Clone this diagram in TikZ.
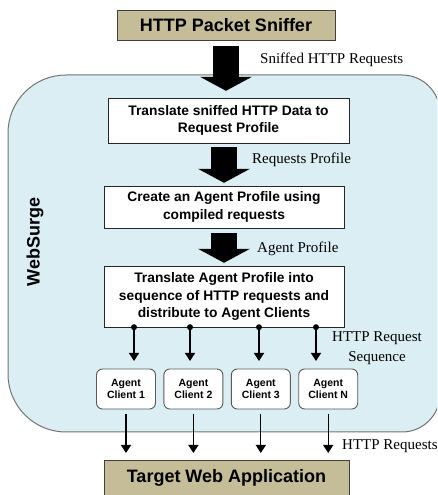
\documentclass[tikz,border=0pt]{standalone}
\usepackage{fontspec}
\setmainfont{Liberation Serif}
\setsansfont{Liberation Sans}
\definecolor{snifftan}{RGB}{196,189,151}
\definecolor{surgeblue}{RGB}{218,238,243}
\usepackage{tikz}
\usetikzlibrary{shapes,arrows.meta,positioning,calc}

\begin{document}
\begin{tikzpicture}[x=1pt,y=1pt,
    endbox/.style={rectangle, draw=black!75, fill=snifftan, inner sep=0pt,
                   font=\sffamily\bfseries\fontsize{18}{21}\selectfont},
    stagebox/.style={rectangle, draw=black!85, fill=white, align=center, inner sep=0pt,
                     font=\sffamily\bfseries\fontsize{13.8}{17.5}\selectfont},
    clientbox/.style={rectangle, rounded corners=6pt, draw=black!65, fill=white, line width=0.9pt,
                      minimum width=59pt, minimum height=40pt, align=center, inner sep=0pt,
                      font=\sffamily\bfseries\fontsize{10.5}{12.5}\selectfont},
    flowlabel/.style={font=\fontsize{15}{20.5}\selectfont, inner sep=0pt},
    bigarrow/.style={line width=26pt, -{Triangle[width=52pt,length=14pt,line width=0pt]}},
    reqarrow/.style={line width=1.3pt, -{Triangle[width=10pt,length=8pt]}}]
    \useasboundingbox (0,0) rectangle (437,495);
    \clip (0,0) rectangle (437,495);

    % WebSurge container
    \path[draw=black!55, fill=surgeblue, line width=1pt]
        (66,420) -- (402,420) arc[start angle=90, end angle=0, radius=38pt]
        -- (440,101) arc[start angle=0, end angle=-90, radius=38pt]
        -- (66,63) arc[start angle=270, end angle=180, radius=58pt]
        -- (8,362) arc[start angle=180, end angle=90, radius=58pt] -- cycle;
    \node[rotate=90, font=\sffamily\bfseries\fontsize{18}{21}\selectfont] (websurge) at (35,253) {WebSurge};

    \node[endbox, minimum width=218pt, minimum height=30pt] (sniffer) at (226,470) {HTTP Packet Sniffer};
    \node[stagebox, minimum width=241pt, minimum height=45pt] (translate) at (228.5,374.5)
        {Translate sniffed HTTP Data to\\Request Profile};
    \node[stagebox, minimum width=240pt, minimum height=42pt] (profile) at (224,288)
        {Create an Agent Profile using\\compiled requests};
    \node[stagebox, minimum width=240pt, minimum height=61pt] (distribute) at (224,198.5)
        {Translate Agent Profile into\\sequence of HTTP requests and\\distribute to Agent Clients};

    % agent clients
    \node[clientbox] (client1) at (126,106) {Agent\\Client 1};
    \node[clientbox, right=7.5pt of client1] (client2) {Agent\\Client 2};
    \node[clientbox, right=7.5pt of client2] (client3) {Agent\\Client 3};
    \node[clientbox, right=7.5pt of client3] (client4) {Agent\\Client N};

    \node[endbox, anchor=north, minimum width=245pt, text height=22pt, text depth=20pt]
        (target) at (226.5,35) {Target Web Application};

    % big flow arrows
    \draw[bigarrow, shorten <=6pt, shorten >=7pt] (sniffer.south) -- (sniffer.south |- translate.north);
    \draw[bigarrow, shorten <=4pt, shorten >=3pt] (profile.north |- translate.south) -- (profile.north);
    \draw[bigarrow, shorten <=5pt, shorten >=3pt] (profile.south) -- (distribute.north);

    \node[flowlabel, anchor=west] (sniffedlbl) at (260,435) {Sniffed HTTP Requests};
    \node[flowlabel, anchor=west] (reqproflbl) at (252,335) {Requests Profile};
    \node[flowlabel, anchor=west] (agentproflbl) at (257,246) {Agent Profile};
    \node[flowlabel, align=center] (seqlbl) at (377,147) {HTTP Request\\Sequence};
    \node[flowlabel, anchor=west] (httpreqlbl) at (342,49) {HTTP Requests};

    % request sequences to the clients
    \foreach \x [count=\i] in {134,190,259,316} {
        \coordinate (tip\i) at (\x,134);
        \fill (distribute.south -| tip\i) circle (3pt);
        \draw[reqarrow] (distribute.south -| tip\i) -- (tip\i);
    }
    \foreach \i in {1,...,4}
        \draw[reqarrow, shorten <=5pt, shorten >=7pt] (client\i.south) -- (client\i.south |- target.north);
\end{tikzpicture}
\end{document}
